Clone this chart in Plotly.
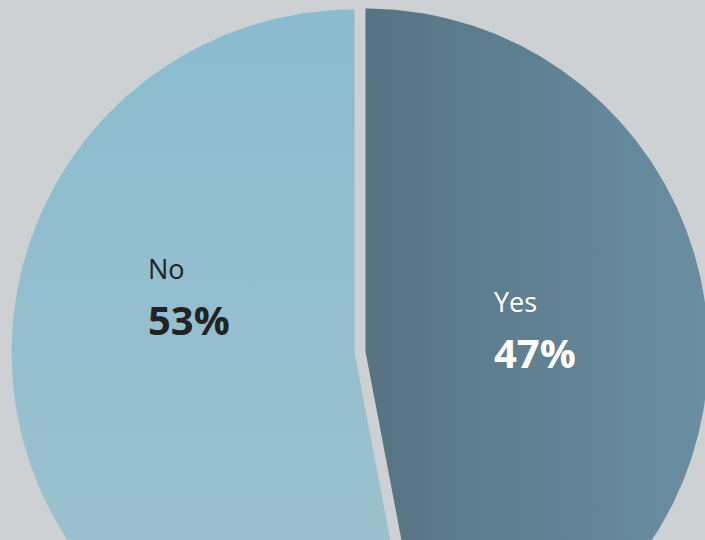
import numpy as np
import plotly.graph_objects as go

# Survey answers
labels = ["Yes", "No"]
shares = [47, 53]

# Styling: gradient stops per slice (start, end)
slice_fills = {
    "Yes": ("#577383", "#6a8fa2"),
    "No": ("#a0c3ce", "#8bbbcf"),
}
label_colors = {"Yes": "#ffffff", "No": "#222222"}
bg = "#cdd1d3"

W, H = 705, 540
cx, cy, radius = 360.0, 352.0, 343.0
pull = 5.5

fig = go.Figure()

total = float(sum(shares))
start = 0.0  # degrees clockwise from 12 o'clock
for lab, val in zip(labels, shares):
    span = 360.0 * val / total
    theta = np.radians(np.linspace(start, start + span, 240))
    mid = np.radians(start + span / 2)
    ox = cx + pull * np.sin(mid)
    oy = cy - pull * np.cos(mid)
    xs = np.concatenate([[ox], ox + radius * np.sin(theta), [ox]])
    ys = np.concatenate([[oy], oy - radius * np.cos(theta), [oy]])
    c0, c1 = slice_fills[lab]
    fig.add_trace(go.Scatter(
        x=xs, y=ys, mode="lines", line=dict(width=0),
        fill="toself",
        fillgradient=dict(type="horizontal" if lab == "Yes" else "vertical",
                          colorscale=[[0, c0], [1, c1]]),
        hoverinfo="skip", showlegend=False,
    ))
    start += span

# Slice labels
label_pos = {"Yes": (492, 301, 352), "No": (146, 268, 319)}
for lab, val in zip(labels, shares):
    x0, y_name, y_pct = label_pos[lab]
    col = label_colors[lab]
    fig.add_annotation(x=x0, y=y_name, text=lab, showarrow=False,
                       xanchor="left", yanchor="middle",
                       font=dict(family="Open Sans", size=27, color=col))
    fig.add_annotation(x=x0, y=y_pct, text=f"<b>{val}%</b>", showarrow=False,
                       xanchor="left", yanchor="middle",
                       font=dict(family="Open Sans", size=40, color=col))

fig.update_layout(
    width=W, height=H,
    margin=dict(l=0, r=0, t=0, b=0),
    paper_bgcolor=bg, plot_bgcolor=bg,
    xaxis=dict(range=[0, W], visible=False, fixedrange=True),
    yaxis=dict(range=[H, 0], visible=False, fixedrange=True),
    showlegend=False,
)

fig.write_html("out.html")
